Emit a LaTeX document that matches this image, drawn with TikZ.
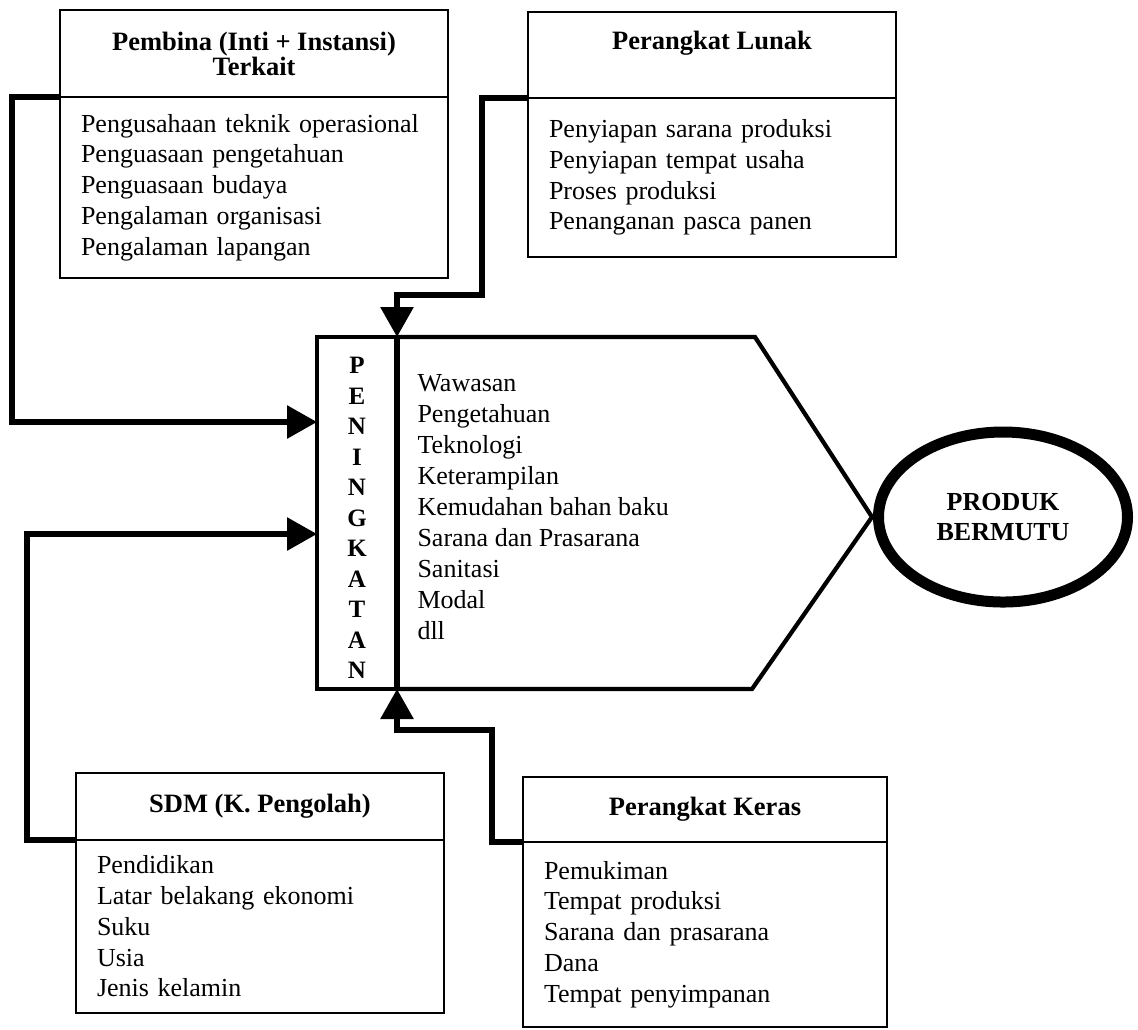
\documentclass[tikz,border=0pt]{standalone}
\usepackage{fontspec}
\setmainfont{Liberation Serif}
\usetikzlibrary{arrows.meta,positioning,shapes.geometric}
\hyphenpenalty=10000

\begin{document}
\begin{tikzpicture}[x=0.4pt,y=-0.4pt,
  judul/.style={draw,line width=1.1pt,outer sep=0pt,align=center,
    font=\fontsize{10.6pt}{12.3pt}\selectfont\bfseries},
  isi/.style={draw,line width=1.1pt,outer sep=0pt,align=left,inner xsep=8.4pt,
    font=\fontsize{10.4pt}{12.3pt}\selectfont},
  daftar/.style={align=left,inner sep=0pt,
    font=\fontsize{10.4pt}{12.4pt}\selectfont},
  tegak/.style={draw,line width=1.7pt,outer sep=0pt,minimum width=32pt,
    minimum height=140.8pt,align=center,text height=132.6pt,text depth=0pt,
    font=\fontsize{10pt}{12.2pt}\selectfont\bfseries},
  hasil/.style={ellipse,draw,line width=4.4pt,minimum width=99.6pt,
    minimum height=68pt,inner sep=0pt,align=center,
    font=\fontsize{10.4pt}{12pt}\selectfont\bfseries},
  panah/.style={line width=2.4pt,-{Triangle[length=12pt,width=12.8pt]}}]

    \useasboundingbox (0,0) rectangle (1138,1029);

    % kotak-kotak masukan
    \node[judul,minimum width=155.2pt,minimum height=34.8pt,anchor=north west]
        (pembina) at (60,10) {Pembina (Inti + Instansi)\\[-2.3pt]Terkait};
    \node[isi,text width=138.4pt,minimum height=72.4pt,below=0pt of pembina]
        (pembinaIsi) {Pengusahaan teknik operasional\\Penguasaan pengetahuan\\
        Penguasaan budaya\\Pengalaman organisasi\\Pengalaman lapangan};

    \node[judul,minimum width=147.2pt,minimum height=34.4pt,text depth=11.5pt,
        anchor=north west] (lunak) at (528,12) {Perangkat Lunak};
    \node[isi,text width=130.4pt,minimum height=63.6pt,below=0pt of lunak]
        (lunakIsi) {Penyiapan sarana produksi\\Penyiapan tempat usaha\\
        Proses produksi\\Penanganan pasca panen};

    \node[judul,minimum width=147.2pt,minimum height=26.8pt,anchor=north west]
        (sdm) at (76,773) {SDM (K. Pengolah)};
    \node[isi,text width=130.4pt,minimum height=69.2pt,below=0pt of sdm]
        (sdmIsi) {Pendidikan\\Latar belakang ekonomi\\Suku\\Usia\\Jenis kelamin};

    \node[judul,minimum width=145.6pt,minimum height=26pt,anchor=north west]
        (keras) at (523,777) {Perangkat Keras};
    \node[isi,text width=128.8pt,minimum height=74pt,below=0pt of keras]
        (kerasIsi) {Pemukiman\\Tempat produksi\\Sarana dan prasarana\\Dana\\
        Tempat penyimpanan};

    % peningkatan
    \node[tegak] (peningkatan) at (357,513)
        {P\\E\\N\\I\\N\\G\\K\\A\\T\\A\\N};
    \draw[line width=1.7pt] (peningkatan.north east) -- (755,337) -- (872,517)
        -- (752,689) -- (peningkatan.south east);
    \draw[line width=2.4pt] (peningkatan.north east) -- (peningkatan.south east);
    \node[daftar,anchor=north west] (faktor) at (417,374)
        {Wawasan\\Pengetahuan\\Teknologi\\Keterampilan\\Kemudahan bahan baku\\
        Sarana dan Prasarana\\Sanitasi\\Modal\\dll};

    \node[hasil] (produk) at (1003,517) {PRODUK\\BERMUTU};

    % panah
    \draw[panah] (pembina.south west) -- ++(-48,0) |- ([yshift=36.4pt]peningkatan.west);
    \draw[panah] (sdm.south west) -- ++(-49,0) |- ([yshift=-8.4pt]peningkatan.west);
    \draw[panah] (lunak.south west) -| ++(-46,197) -| (peningkatan.north east);
    \draw[panah] (keras.south west) -| ++(-31,-112) -| (peningkatan.south east);
\end{tikzpicture}
\end{document}
